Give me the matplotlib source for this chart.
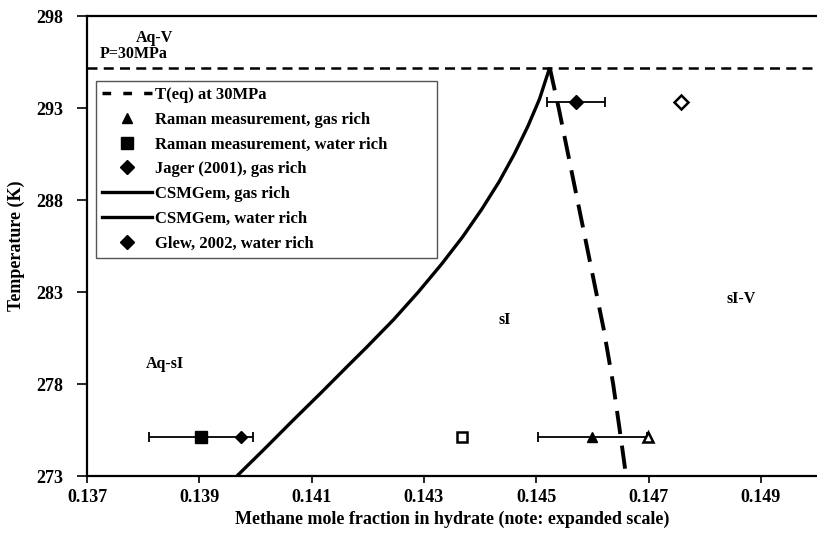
#!/usr/bin/env python3
# -*- coding: utf8 -*-
"""
    Methane hydrate composition at 30 MPa: CSMGem phase boundaries
    against Raman and literature measurements.
"""

import matplotlib
matplotlib.use('Agg')
import matplotlib.pyplot as plt
from matplotlib.lines import Line2D

T_EQ = 295.2  # K, hydrate equilibrium at 30 MPa

# CSMGem, water rich boundary (Aq-sI)
WATER_RICH_X = [0.13967, 0.14017, 0.14066, 0.14116, 0.14165, 0.14198,
                0.14246, 0.14290, 0.14331, 0.14369, 0.14403, 0.14434,
                0.14461, 0.14485, 0.14506, 0.14524]
WATER_RICH_T = [273.0, 274.5, 276.0, 277.5, 279.0, 280.0, 281.5, 283.0,
                284.5, 286.0, 287.5, 289.0, 290.5, 292.0, 293.5, 295.2]

# CSMGem, gas rich boundary (sI-V)
GAS_RICH_X = [0.14524, 0.14540, 0.14560, 0.14580, 0.14600, 0.14620,
              0.14637, 0.14651, 0.14660]
GAS_RICH_T = [295.2, 293.0, 290.0, 287.0, 284.0, 281.0, 278.0, 275.0, 273.0]

# Raman measurements at 275.1 K
RAMAN_GAS_X, RAMAN_GAS_ERR = 0.14600, 0.00097
RAMAN_WATER_X, RAMAN_WATER_ERR = 0.13903, 0.00092
RAMAN_T = 275.1

# Jager (2001), gas rich
JAGER_X, JAGER_ERR, JAGER_T = 0.14571, 0.00052, 293.3

# Glew (2002), water rich
GLEW_X, GLEW_T = 0.13975, 275.1

# open symbols (no legend entry)
OPEN_DIAMOND = (0.14757, 293.3)
OPEN_SQUARE = (0.14367, 275.1)
OPEN_TRIANGLE = (0.14699, 275.1)

X_TICKS = [0.137, 0.139, 0.141, 0.143, 0.145, 0.147, 0.149]
Y_TICKS = [273, 278, 283, 288, 293, 298]

REGIONS = [('Aq-V', 0.1382, 296.8),
           ('sI', 0.14444, 281.5),
           ('sI-V', 0.14865, 282.6),
           ('Aq-sI', 0.13839, 279.1)]

LEGEND_LABELS = ['T(eq) at 30MPa',
                 'Raman measurement, gas rich',
                 'Raman measurement, water rich',
                 'Jager (2001), gas rich',
                 'CSMGem, gas rich',
                 'CSMGem, water rich',
                 'Glew, 2002, water rich']


def main():
    plt.rcParams['font.family'] = ['Liberation Serif', 'DejaVu Serif']
    plt.rcParams['font.weight'] = 'bold'

    fig = plt.figure(figsize=(8.17, 5.34), dpi=100)
    ax = fig.add_axes([0.1065, 0.1086, 0.8935, 0.8614])

    ax.plot([0.137, 0.150], [T_EQ, T_EQ], color='k', lw=1.8,
            dashes=(4, 2.5))
    ax.plot(WATER_RICH_X, WATER_RICH_T, color='k', lw=2.4,
            solid_capstyle='butt')
    ax.plot(GAS_RICH_X, GAS_RICH_T, color='k', lw=2.8,
            dashes=(6, 3))

    err_kw = dict(fmt='none', ecolor='k', elinewidth=1.3, capsize=3.5,
                  capthick=1.3)
    ax.errorbar(RAMAN_GAS_X, RAMAN_T, xerr=RAMAN_GAS_ERR, **err_kw)
    ax.errorbar(RAMAN_WATER_X, RAMAN_T, xerr=RAMAN_WATER_ERR, **err_kw)
    ax.errorbar(JAGER_X, JAGER_T, xerr=JAGER_ERR, **err_kw)

    ax.plot(RAMAN_GAS_X, RAMAN_T, '^', color='k', ms=7)
    ax.plot(RAMAN_WATER_X, RAMAN_T, 's', color='k', ms=8.5)
    ax.plot(JAGER_X, JAGER_T, 'D', color='k', ms=7)
    ax.plot(GLEW_X, GLEW_T, 'D', color='k', ms=6.5)

    open_kw = dict(color='k', mfc='white', mew=1.8, ls='none')
    ax.plot(*OPEN_DIAMOND, marker='D', ms=7, **open_kw)
    ax.plot(*OPEN_SQUARE, marker='s', ms=7.5, **open_kw)
    ax.plot(*OPEN_TRIANGLE, marker='^', ms=7, **open_kw)

    for text, x, y in REGIONS:
        ax.text(x, y, text, fontsize=11.5, ha='center', va='center')
    ax.text(0.13722, 295.95, 'P=30MPa', fontsize=11.5, ha='left',
            va='center')

    handles = [
        Line2D([], [], color='k', lw=2.5, dashes=(2.5, 3.5)),
        Line2D([], [], color='k', marker='^', ls='none', ms=7),
        Line2D([], [], color='k', marker='s', ls='none', ms=8),
        Line2D([], [], color='k', marker='D', ls='none', ms=7),
        Line2D([], [], color='k', lw=2.4),
        Line2D([], [], color='k', lw=2.4),
        Line2D([], [], color='k', marker='D', ls='none', ms=7),
    ]
    leg = ax.legend(handles, LEGEND_LABELS, loc='upper left', mode='expand',
                    bbox_to_anchor=(0.0123, 0.474, 0.4671, 0.385),
                    borderaxespad=0, fontsize=12, handlelength=3.0,
                    handletextpad=0.2, labelspacing=0.53, borderpad=0.35,
                    fancybox=False, framealpha=1, edgecolor='#555555')
    leg.get_frame().set_linewidth(1.0)

    ax.set_xlim(0.137, 0.150)
    ax.set_ylim(273, 298)
    ax.set_xticks(X_TICKS)
    ax.set_xticklabels(['%.3f' % v for v in X_TICKS])
    ax.set_yticks(Y_TICKS)
    ax.tick_params(direction='out', width=1.2, labelsize=13)
    ax.tick_params(axis='x', length=5, pad=4)
    ax.tick_params(axis='y', length=7, pad=10)
    ax.spines['right'].set_visible(False)
    for side in ('left', 'bottom', 'top'):
        ax.spines[side].set_linewidth(1.6)

    ax.set_xlabel('Methane mole fraction in hydrate (note: expanded scale)',
                  fontsize=13, fontweight='bold', labelpad=4)
    ax.set_ylabel('Temperature (K)', fontsize=13, fontweight='bold',
                  labelpad=8)

    fig.savefig('out.png', dpi=100)


if __name__ == '__main__':
    main()
